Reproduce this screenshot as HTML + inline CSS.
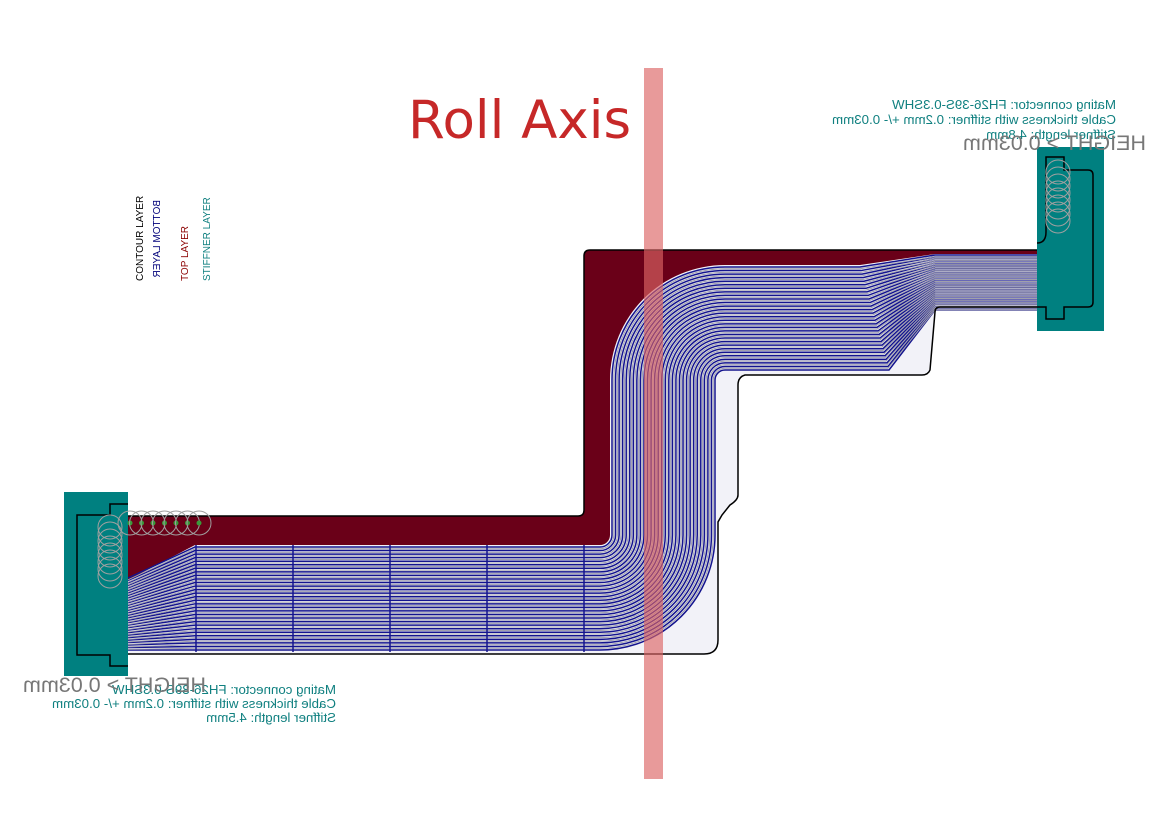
<!DOCTYPE html>
<html><head><meta charset="utf-8"><style>
html,body{margin:0;padding:0;background:#fff;}
svg{display:block;font-family:"Liberation Sans",sans-serif;}
</style></head><body>
<svg id="s" width="1169" height="826" viewBox="0 0 1169 826" xmlns="http://www.w3.org/2000/svg">
<rect width="1169" height="826" fill="#fff"/>
<path d="M128,516 L578,516 Q584,516 584,510 L584,256 Q584,250 590,250 L1040,250 L1040,307 L940,307 Q935,307 935,312 L930,370 Q928,375 922,375 L745,375 Q738,377 738,385 L738,495 Q738,500 730,505 L722,515 L718,522 L718,640 Q718,654 704,654 L128,654 Z" fill="#6a0018"/>
<path d="M128,580 L195,545 L600,545 A10 10 0 0 0 610,535 L610,380 A115 115 0 0 1 725,265 L860,265 L935,254 L1040,254 L1040,307 L940,307 Q935,307 935,312 L930,370 Q928,375 922,375 L745,375 Q738,377 738,385 L738,495 Q738,500 730,505 L722,515 L718,522 L718,640 Q718,654 704,654 L128,654 Z" fill="#f2f2f8"/>
<g id="tr" fill="none" stroke="#14148e" stroke-width="1.5"></g>
<g id="gr" fill="none" stroke="#a0a0ac" stroke-width="1"></g>
<g stroke="#14148e" stroke-width="1.5">
<line x1="196" y1="545" x2="196" y2="652"/><line x1="293" y1="545" x2="293" y2="652"/><line x1="390" y1="545" x2="390" y2="652"/><line x1="487" y1="545" x2="487" y2="652"/><line x1="584" y1="545" x2="584" y2="652"/>
</g>
<path d="M128,516 L578,516 Q584,516 584,510 L584,256 Q584,250 590,250 L1040,250 M1040,307 L940,307 Q935,307 935,312 L930,370 Q928,375 922,375 L745,375 Q738,377 738,385 L738,495 Q738,500 730,505 L722,515 L718,522 L718,640 Q718,654 704,654 L128,654" fill="none" stroke="#000" stroke-width="1.5"/>
<rect x="64" y="492" width="64" height="184" fill="#008080"/>
<path d="M128,504 L110,504 L110,515 L77,515 L77,655 L110,655 L110,666 L128,666" fill="none" stroke="#000" stroke-width="1.5"/>
<rect x="1037" y="147" width="67" height="184" fill="#008080"/>
<path d="M1037,243 Q1046,243 1046,232 L1046,157 L1064,157 L1064,170 L1088,170 Q1093,170 1093,175 L1093,302 Q1093,307 1088,307 L1064,307 L1064,319 L1046,319 L1046,307 L1037,307" fill="none" stroke="#000" stroke-width="1.5"/>
<g id="circ" fill="none" stroke="#a0a0a0" stroke-width="1"></g>
<rect x="644" y="68" width="19" height="711" fill="rgb(220,100,100)" fill-opacity="0.65"/>
<text x="408" y="138" font-size="53" fill="#c62828" font-family="DejaVu Sans, sans-serif">Roll Axis</text>
<g fill="#108080" font-size="13.3">
<text transform="translate(1116,109) scale(-1,1)">Mating connector: FH26-39S-0.3SHW</text>
<text transform="translate(1116,124) scale(-1,1)">Cable thickness with stiffner: 0.2mm +/- 0.03mm</text>
<text transform="translate(1116,139) scale(-1,1)">Stiffner length: 4.8mm</text>
<text transform="translate(336,694) scale(-1,1)">Mating connector: FH26-39S-0.3SHW</text>
<text transform="translate(336,708) scale(-1,1)">Cable thickness with stiffner: 0.2mm +/- 0.03mm</text>
<text transform="translate(336,722) scale(-1,1)">Stiffner length: 4.5mm</text>
</g>
<g fill="#777" font-size="21.5">
<text transform="translate(1146,150) scale(-1,1)">HEIGHT &gt; 0.03mm</text>
<text transform="translate(206,692) scale(-1,1)">HEIGHT &gt; 0.03mm</text>
</g>
<g font-size="10">
<text transform="translate(143,281) rotate(-90)" fill="#000">CONTOUR LAYER</text>
<text transform="translate(160,200) rotate(90) scale(1,-1)" fill="#00007a">BOTTOM LAYER</text>
<text transform="translate(188,281) rotate(-90)" fill="#8b0000">TOP LAYER</text>
<text transform="translate(210,281) rotate(-90)" fill="#108080">STIFFNER LAYER</text>
</g>
</svg>
<script>
var ns="http://www.w3.org/2000/svg",tr=document.getElementById("tr"),gr=document.getElementById("gr"),c=document.getElementById("circ");
function p(i,off){var r=12+i*103/29+off,R=125-r,yl=578+i*72/29+off,ye=255+i*55/29+off;
return "M128,"+yl+" L195,"+(535+r)+" L600,"+(535+r)+" A"+r+" "+r+" 0 0 0 "+(600+r)+",535 L"+(600+r)+",380 A"+R+" "+R+" 0 0 1 725,"+(380-R)+" L"+(860+i)+","+(380-R)+" L935,"+ye+" L1040,"+ye;}
for(var i=0;i<30;i++){var e=document.createElementNS(ns,"path");e.setAttribute("d",p(i,0));tr.appendChild(e);
if(i<29){var g=document.createElementNS(ns,"path");g.setAttribute("d",p(i,1.8));gr.appendChild(g);}}
for(var k=0;k<8;k++){var a=document.createElementNS(ns,"circle");a.setAttribute("cx",110);a.setAttribute("cy",527+k*7);a.setAttribute("r",12);c.appendChild(a);
var b=document.createElementNS(ns,"circle");b.setAttribute("cx",1058);b.setAttribute("cy",172+k*7);b.setAttribute("r",12);c.appendChild(b);}
for(var k=0;k<7;k++){var a=document.createElementNS(ns,"circle");a.setAttribute("cx",130+k*11.5);a.setAttribute("cy",523);a.setAttribute("r",12);c.appendChild(a);
var d=document.createElementNS(ns,"circle");d.setAttribute("cx",130+k*11.5);d.setAttribute("cy",523);d.setAttribute("r",2.5);d.setAttribute("fill","#3a9a3a");d.setAttribute("stroke","none");c.appendChild(d);}
</script>
</body></html>
